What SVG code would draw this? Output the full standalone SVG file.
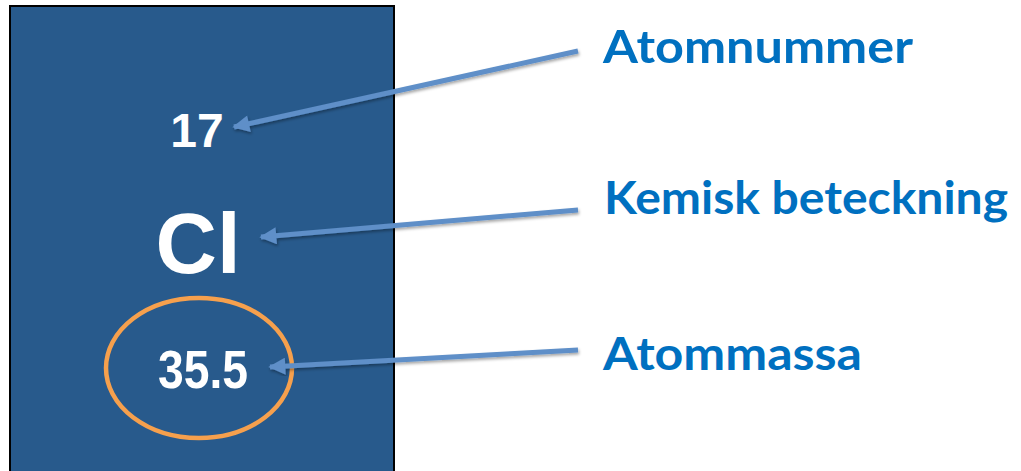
<svg xmlns="http://www.w3.org/2000/svg" width="1021" height="471" viewBox="0 0 1021 471">
<style>
.lbl{font-family:Lato,"Open Sans","Liberation Sans",sans-serif;font-weight:bold;fill:#0070C0;font-size:46px}
.num{font-family:"Liberation Sans",Arial,sans-serif;font-weight:bold;fill:#ffffff;text-anchor:middle}
.conn{stroke:#5E8FC8;stroke-width:5;fill:none;marker-end:url(#ah);filter:url(#sh)}
</style>
<defs>
<marker id="ah" viewBox="0 0 10 10" refX="9" refY="5" markerWidth="3.6" markerHeight="3.4" orient="auto" markerUnits="strokeWidth">
<path d="M0,0 L10,5 L0,10 z" fill="#5E8FC8"/>
</marker>
<filter id="sh" x="-10%" y="-50%" width="120%" height="200%">
<feDropShadow dx="1" dy="2" stdDeviation="1.5" flood-color="#000" flood-opacity="0.35"/>
</filter>
</defs>
<g id="element">
<rect x="10" y="6" width="384" height="480" fill="#285A8C" stroke="#000" stroke-width="2"/>
<text class="num" x="197" y="147" font-size="48">17</text>
<text class="num" x="198" y="273" font-size="85">Cl</text>
<text class="num" x="203" y="388" font-size="53" textLength="90" lengthAdjust="spacingAndGlyphs">35.5</text>
<ellipse cx="199" cy="368" rx="93" ry="70" fill="none" stroke="#F6A04D" stroke-width="4.5"/>
</g>
<g id="labels">
<text id="atomnummer" class="lbl" x="603" y="63" textLength="310" lengthAdjust="spacingAndGlyphs">Atomnummer</text>
<text id="kemisk" class="lbl" x="604" y="214" textLength="404" lengthAdjust="spacingAndGlyphs">Kemisk beteckning</text>
<text id="atommassa" class="lbl" x="603" y="370" textLength="259" lengthAdjust="spacingAndGlyphs">Atommassa</text>
</g>
<g id="connectors">
<line class="conn" x1="578" y1="51" x2="234" y2="127"/>
<line class="conn" x1="578" y1="210" x2="261" y2="237"/>
<line class="conn" x1="578" y1="350" x2="270" y2="367"/>
</g>
</svg>
